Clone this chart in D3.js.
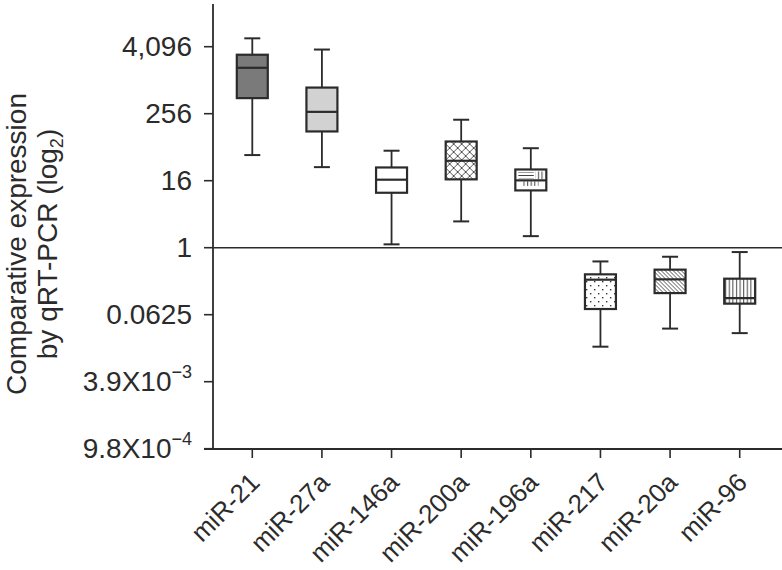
<!DOCTYPE html>
<html><head><meta charset="utf-8">
<script src="https://cdn.jsdelivr.net/npm/d3@7"></script>
<style>body{margin:0;background:#fff}svg{display:block}text{font-family:"Liberation Sans",Arial,sans-serif;fill:#2b2b2b}</style>
</head><body><svg id="c" width="782" height="570"></svg>
<script>
// Data (log2 of comparative expression)
const categories = ["miR-21","miR-27a","miR-146a","miR-200a","miR-196a","miR-217","miR-20a","miR-96"];
const whiskerLow  = [5.53, 4.81, 0.20, 1.57, 0.69, -5.91, -4.83, -5.10];
const q1          = [8.93, 6.94, 3.28, 4.08, 3.42, -3.66, -2.71, -3.34];
const median      = [10.74, 8.11, 4.06, 5.19, 4.02, -1.91, -1.89, -3.01];
const q3          = [11.52, 9.56, 4.79, 6.34, 4.67, -1.59, -1.31, -1.85];
const whiskerHigh = [12.50, 11.83, 5.79, 7.64, 5.94, -0.82, -0.54, -0.26];
const tickValues  = [12, 8, 4, 0, -4, -8, -12];
const tickLabels  = [["4,096"],["256"],["16"],["1"],["0.0625"],["3.9X10","−3"],["9.8X10","−4"]];
const fills = ["#7a7a7a","#d2d2d2","#ffffff","url(#cross)","url(#mixed)","url(#dots)","url(#diag)","url(#vert)"];

const svg = d3.select("#c");
const axisX = 213, axisBottom = 449, axisTop = 4;
const y = d3.scaleLinear().domain([-12, 12]).range([448.7, 46.7]);
const x = d3.scaleBand().domain(categories).range([218, 774]).paddingInner(0.555).paddingOuter(0.27);
const ink = "#2b2b2b";

// patterns
const defs = svg.append("defs");
const cross = defs.append("pattern").attr("id","cross").attr("patternUnits","userSpaceOnUse").attr("width",8).attr("height",8);
cross.append("rect").attr("width",8).attr("height",8).attr("fill","#fff");
cross.append("path").attr("d","M0,0L8,8M8,0L0,8").attr("stroke","#555").attr("stroke-width",1);
const dots = defs.append("pattern").attr("id","dots").attr("patternUnits","userSpaceOnUse").attr("width",8).attr("height",8);
dots.append("rect").attr("width",8).attr("height",8).attr("fill","#fff");
dots.append("rect").attr("x",1).attr("y",1).attr("width",1.4).attr("height",1.4).attr("fill","#333");
dots.append("rect").attr("x",5).attr("y",5).attr("width",1.4).attr("height",1.4).attr("fill","#333");
const diag = defs.append("pattern").attr("id","diag").attr("patternUnits","userSpaceOnUse").attr("width",4).attr("height",4);
diag.append("rect").attr("width",4).attr("height",4).attr("fill","#fff");
diag.append("path").attr("d","M-1,-1L5,5M-1,3L1,5M3,-1L5,1").attr("stroke","#444").attr("stroke-width",0.9);
const vert = defs.append("pattern").attr("id","vert").attr("patternUnits","userSpaceOnUse").attr("width",3.6).attr("height",4);
vert.append("rect").attr("width",3.6).attr("height",4).attr("fill","#fff");
vert.append("path").attr("d","M1.5,0V4").attr("stroke","#444").attr("stroke-width",1);
const hor = defs.append("pattern").attr("id","hor").attr("patternUnits","userSpaceOnUse").attr("width",4).attr("height",3);
hor.append("rect").attr("width",4).attr("height",3).attr("fill","#fff");
hor.append("path").attr("d","M0,1.5H4").attr("stroke","#444").attr("stroke-width",1);
defs.append("pattern").attr("id","mixed").attr("patternUnits","userSpaceOnUse").attr("width",4).attr("height",4)
  .append("rect").attr("width",4).attr("height",4).attr("fill","#fff");

// y axis line
svg.append("line").attr("x1",axisX).attr("x2",axisX).attr("y1",axisTop).attr("y2",axisBottom).attr("stroke",ink).attr("stroke-width",1.8);
// x axis line
svg.append("line").attr("x1",204).attr("x2",782).attr("y1",axisBottom).attr("y2",axisBottom).attr("stroke",ink).attr("stroke-width",1.8);
// reference line at 1
svg.append("line").attr("x1",axisX).attr("x2",782).attr("y1",y(0)).attr("y2",y(0)).attr("stroke",ink).attr("stroke-width",1.6);

// y ticks
const yt = svg.append("g").selectAll("g").data(tickValues).join("g").attr("transform",d=>`translate(0,${y(d)})`);
yt.append("line").attr("x1",204).attr("x2",axisX).attr("stroke",ink).attr("stroke-width",1.6);
yt.append("text").attr("x",192).attr("y",9.5).attr("text-anchor","end").attr("font-size",28)
  .each(function(d,i){
    const t = d3.select(this), lab = tickLabels[i];
    t.append("tspan").text(lab[0]);
    if (lab[1]) t.append("tspan").attr("dy",-13).attr("font-size",18).text(lab[1]);
  });

// x ticks
const xt = svg.append("g").selectAll("g").data(categories).join("g").attr("transform",d=>`translate(${x(d)+x.bandwidth()/2},${axisBottom})`);
xt.append("line").attr("y1",0).attr("y2",9).attr("stroke",ink).attr("stroke-width",1.6);
xt.append("text").attr("text-anchor","end").attr("font-size",26)
  .attr("transform","translate(9,35) rotate(-45)").text(d=>d);

// y label
const yl = svg.append("text").attr("transform","translate(0,244) rotate(-90)").attr("text-anchor","middle").attr("font-size",28);
yl.append("tspan").attr("x",0).attr("y",26).text("Comparative expression");
const l2 = yl.append("tspan").attr("x",0).attr("y",57);
l2.append("tspan").text("by qRT-PCR (log");
l2.append("tspan").attr("font-size",18).attr("dy",6).text("2");
l2.append("tspan").attr("dy",-6).text(")");

// boxes
const bw = x.bandwidth();
const g = svg.append("g").selectAll("g").data(categories).join("g").attr("transform",d=>`translate(${x(d)},0)`);
g.append("line").attr("x1",bw/2).attr("x2",bw/2).attr("y1",(d,i)=>y(whiskerHigh[i])).attr("y2",(d,i)=>y(whiskerLow[i])).attr("stroke",ink).attr("stroke-width",1.8);
g.append("line").attr("x1",bw/2-8).attr("x2",bw/2+8).attr("y1",(d,i)=>y(whiskerHigh[i])).attr("y2",(d,i)=>y(whiskerHigh[i])).attr("stroke",ink).attr("stroke-width",2);
g.append("line").attr("x1",bw/2-8).attr("x2",bw/2+8).attr("y1",(d,i)=>y(whiskerLow[i])).attr("y2",(d,i)=>y(whiskerLow[i])).attr("stroke",ink).attr("stroke-width",2);
g.append("rect").attr("x",0).attr("width",bw).attr("y",(d,i)=>y(q3[i])).attr("height",(d,i)=>y(q1[i])-y(q3[i]))
  .attr("fill",(d,i)=>fills[i]).attr("stroke",ink).attr("stroke-width",2.2);
// special texture for miR-196a: horizontal lines left / vertical right in upper part; short verticals in lower part
g.filter((d,i)=>i===4).each(function(d){
  const i = 4, s = d3.select(this);
  const top = y(q3[i]), mid = y(median[i]), bot = y(q1[i]);
  s.append("rect").attr("x",3).attr("y",top+3).attr("width",bw*0.5).attr("height",mid-top-5).attr("fill","url(#hor)");
  s.append("rect").attr("x",bw*0.55+3).attr("y",top+2).attr("width",bw*0.45-5).attr("height",mid-top-3).attr("fill","url(#vert)");
  s.append("rect").attr("x",bw*0.25).attr("y",mid+1).attr("width",bw*0.5).attr("height",(bot-mid)*0.45).attr("fill","url(#vert)");
});
g.append("line").attr("x1",0).attr("x2",bw).attr("y1",(d,i)=>y(median[i])).attr("y2",(d,i)=>y(median[i])).attr("stroke",ink).attr("stroke-width",2.2);
</script></body></html>
